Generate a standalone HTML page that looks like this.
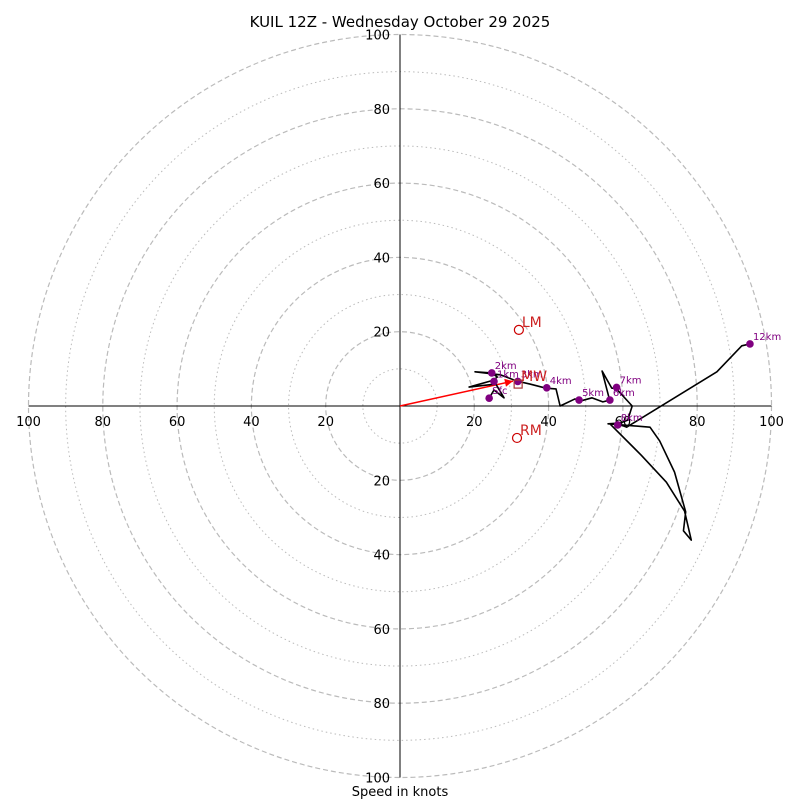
<!DOCTYPE html>
<html><head><meta charset="utf-8"><style>
body{margin:0;background:#fff}
svg{display:block;font-family:"DejaVu Sans","Liberation Sans",sans-serif}
</style></head><body>
<svg id="c" width="800" height="800" viewBox="0 0 800 800">
<text x="400" y="27" text-anchor="middle" font-size="15">KUIL 12Z - Wednesday October 29 2025</text>
<text x="400" y="796" text-anchor="middle" font-size="13">Speed in knots</text>
</svg>
<script>
const ringKnots=[10,20,30,40,50,60,70,80,90,100];
const tickKnots=[20,40,60,80,100];
// hodograph trace (u,v) in knots
const traceU=[24,25.3,28,25.8,18.6,25,26.2,24.6,20.2,27,31.5,35,39.3,42,43.1,47.1,48.4,51.7,54.6,56.5,56.5,54.4,57,58.1,62.5,61.3,59.2,56,67.3,69.9,73.9,76.9,76.3,78.4,76.6,71.7,64.9,56.5,59.5,61,85.3,92,94.2];
const traceV=[2.1,4.3,2.2,5.9,5.1,6.9,7.8,8.9,9.2,8.4,6.7,5.9,4.8,4.6,0,1.9,1.3,2.2,1.1,1.6,1.3,9.4,4.8,4.8,0,-3.8,-4.6,-4.8,-5.7,-9.4,-17.8,-28.5,-33.6,-36.1,-28.3,-20.5,-13.2,-4.8,-5.1,-5.7,9.2,16.2,16.7];
const dotLabels=["Sfc","1km","2km","3km","4km","5km","6km","7km","8km","12km"];
const dotU=[24,25.3,24.7,31.7,39.5,48.2,56.5,58.3,58.6,94.2];
const dotV=[2.1,6.6,8.9,6.6,4.9,1.6,1.6,5.0,-5.1,16.7];
const lmU=[32],lmV=[20.5],rmU=[31.5],rmV=[-8.6],mwU=[31.8],mwV=[5.9];
const meanWindTip=[30.4,6.7];

const S=document.getElementById('c'),NS='http://www.w3.org/2000/svg';
const cx=400,cy=406,scale=3.715;
const X=u=>cx+u*scale, Y=v=>cy-v*scale;
function mk(t,a){const e=document.createElementNS(NS,t);for(const k in a)e.setAttribute(k,a[k]);S.appendChild(e);return e;}
ringKnots.forEach(r=>{
 const e=mk('circle',{cx:cx,cy:cy,r:r*scale,fill:'none',stroke:'#bbb','stroke-width':r%20?1:1.2,'stroke-dasharray':r%20?'1.5,3':'5,3'});
 
 
});
let e=mk('line',{x1:X(-100),y1:cy,x2:X(100),y2:cy,stroke:'#000','stroke-width':1});


e=mk('line',{x1:cx,y1:Y(100),x2:cx,y2:Y(-100),stroke:'#000','stroke-width':1});


tickKnots.forEach(k=>{
 [[X(k),cy+20],[X(-k),cy+20]].forEach(p=>{
  const t=mk('text',{x:p[0],y:p[1],'text-anchor':'middle','font-size':13});t.textContent=k;
  
  
 });
 [Y(k),Y(-k)].forEach(y=>{
  const t=mk('text',{x:390,y:y+5,'text-anchor':'end','font-size':13});t.textContent=k;
  
  
 });
});
// mean wind arrow
e=mk('line',{x1:cx,y1:cy,x2:X(meanWindTip[0]),y2:Y(meanWindTip[1]),stroke:'red','stroke-width':1.5});


{const ang=Math.atan2(Y(meanWindTip[1])-cy,X(meanWindTip[0])-cx),tx=X(meanWindTip[0]),ty=Y(meanWindTip[1]);
 const pts=[[tx,ty],[tx-8*Math.cos(ang)+4*Math.sin(ang),ty-8*Math.sin(ang)-4*Math.cos(ang)],[tx-8*Math.cos(ang)-4*Math.sin(ang),ty-8*Math.sin(ang)+4*Math.cos(ang)]];
 e=mk('polygon',{points:pts.map(p=>p.join(',')).join(' '),fill:'red'});
 
 }
// trace
e=mk('polyline',{points:traceU.map((u,i)=>X(u)+','+Y(traceV[i])).join(' '),fill:'none',stroke:'#000','stroke-width':1.6,'stroke-linejoin':'round'});


dotLabels.forEach((l,i)=>{
 const d=mk('circle',{cx:X(dotU[i]),cy:Y(dotV[i]),r:3.8,fill:'purple'});
 
 
 const t=mk('text',{x:X(dotU[i])+3,y:Y(dotV[i])-4,'font-size':10,fill:'purple'});t.textContent=l;
 
 
});
e=mk('circle',{cx:X(lmU[0]),cy:Y(lmV[0]),r:4.5,fill:'none',stroke:'#c00','stroke-width':1.2});


e=mk('circle',{cx:X(rmU[0]),cy:Y(rmV[0]),r:4.5,fill:'none',stroke:'#c00','stroke-width':1.2});


e=mk('rect',{x:X(mwU[0])-4,y:Y(mwV[0])-4,width:8,height:8,fill:'none',stroke:'#a33','stroke-width':1.2});


[['LM',lmU[0],lmV[0]],['RM',rmU[0],rmV[0]],['MW',mwU[0],mwV[0]]].forEach(a=>{
 const t=mk('text',{x:X(a[1])+3,y:Y(a[2])-3,'font-size':14,fill:'#c22'});t.textContent=a[0];
 
 
});
</script>
</body></html>
